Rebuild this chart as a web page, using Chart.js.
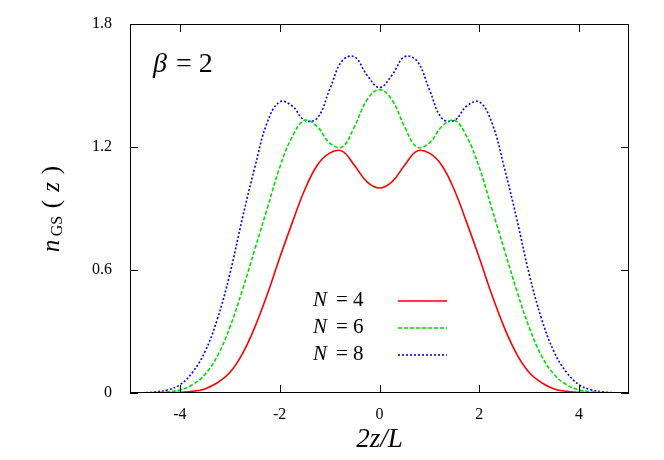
<!DOCTYPE html>
<html><head><meta charset="utf-8">
<script src="https://cdn.jsdelivr.net/npm/chart.js@4"></script>
<style>body{margin:0;background:#fff}#w{width:664px;height:460px}</style>
</head><body><div id="w"><canvas id="c"></canvas></div>
<script>
const xs=[-5,-4.75,-4.5,-4.25,-4,-3.75,-3.5,-3.25,-3,-2.75,-2.5,-2.25,-2,-1.75,-1.5,-1.25,-1,-0.75,-0.5,-0.25,0,0.25,0.5,0.75,1,1.25,1.5,1.75,2,2.25,2.5,2.75,3,3.25,3.5,3.75,4,4.25,4.5,4.75,5];
const n4=[0,0,0,0.001,0.003,0.008,0.02,0.05,0.1,0.19,0.32,0.48,0.66,0.83,0.99,1.11,1.17,1.18,1.11,1.03,1.0,1.03,1.11,1.18,1.17,1.11,0.99,0.83,0.66,0.48,0.32,0.19,0.1,0.05,0.02,0.008,0.003,0.001,0,0,0];
const n6=[0,0,0.002,0.006,0.015,0.04,0.09,0.18,0.32,0.5,0.7,0.9,1.1,1.25,1.33,1.3,1.22,1.2,1.3,1.43,1.48,1.43,1.3,1.2,1.22,1.3,1.33,1.25,1.1,0.9,0.7,0.5,0.32,0.18,0.09,0.04,0.015,0.006,0.002,0,0];
const n8=[0,0.001,0.005,0.015,0.04,0.1,0.2,0.36,0.58,0.85,1.1,1.32,1.42,1.4,1.33,1.34,1.48,1.62,1.64,1.55,1.49,1.55,1.64,1.62,1.48,1.34,1.33,1.4,1.42,1.32,1.1,0.85,0.58,0.36,0.2,0.1,0.04,0.015,0.005,0.001,0];
const xTicks=[-4,-2,0,2,4], yTicks=[0,0.6,1.2,1.8];
const labels=['4','6','8'];
const pts=a=>a.map((v,i)=>({x:xs[i],y:v}));
const serif='"Liberation Serif","DejaVu Serif",serif';
const deco={id:'deco',afterDraw(ch){
 const c=ch.ctx,a=ch.chartArea,xs_=ch.scales.x,ys=ch.scales.y;
 c.save();c.strokeStyle='#000';c.lineWidth=1;
 c.strokeRect(a.left+.5,a.top+.5,a.right-a.left-1,a.bottom-a.top-1);
 c.beginPath();
 xTicks.forEach(t=>{const p=Math.round(xs_.getPixelForValue(t))+.5;c.moveTo(p,a.bottom);c.lineTo(p,a.bottom-8);c.moveTo(p,a.top);c.lineTo(p,a.top+8);});
 yTicks.forEach(t=>{const p=Math.round(ys.getPixelForValue(t))+.5;c.moveTo(a.left,p);c.lineTo(a.left+8,p);c.moveTo(a.right,p);c.lineTo(a.right-8,p);});
 c.stroke();
 c.fillStyle='#000';c.textBaseline='middle';c.textAlign='left';
 c.font='italic 28px '+serif;c.fillText('β',153,65);
 c.font='28px '+serif;c.fillText('= 2',176,65);
 // y title
 c.save();c.translate(52,208);c.rotate(-Math.PI/2);c.textAlign='center';
 c.font='italic 25px '+serif;c.fillText('n',-38,0);
 c.font='16px '+serif;c.fillText('GS',-18,6);
 c.font='25px '+serif;c.fillText('(',4,0);c.fillText(')',38,0);
 c.font='italic 25px '+serif;c.fillText('z',21,0);
 c.restore();
 const ds=ch.data.datasets;
 ds.forEach((d,i)=>{const y=300+i*27;c.textAlign='left';c.fillStyle='#000';
  c.font='italic 21px '+serif;c.fillText('N',313,y);
  c.font='21px '+serif;c.fillText('= '+labels[i],336,y);
  c.strokeStyle=d.borderColor;c.lineWidth=1.6;c.setLineDash(d.borderDash||[]);c.beginPath();c.moveTo(398,y+1);c.lineTo(447,y+1);c.stroke();c.setLineDash([]);});
 c.restore();}};
new Chart(document.getElementById('c'),{type:'line',
 data:{datasets:[
  {data:pts(n4),borderColor:'#ff0000',borderWidth:1.6},
  {data:pts(n6),borderColor:'#00dd00',borderWidth:1.6,borderDash:[4,2]},
  {data:pts(n8),borderColor:'#0000ff',borderWidth:1.6,borderDash:[2,2]}]},
 options:{responsive:true,maintainAspectRatio:false,animation:false,
  elements:{point:{radius:0},line:{tension:0.4}},
  layout:{padding:{top:24,right:35,left:0,bottom:0}},
  plugins:{legend:{display:false},tooltip:{enabled:false}},
  scales:{
   x:{type:'linear',min:-5,max:5,afterBuildTicks:s=>{s.ticks=xTicks.map(v=>({value:v}))},
    afterFit:s=>{s.height=67},grid:{display:false},border:{display:false},
    ticks:{color:'#000',font:{family:serif,size:16},padding:4,maxRotation:0},
    title:{display:true,text:'2z/L',color:'#000',font:{family:serif,size:27,style:'italic'},padding:{top:0}}},
   y:{min:0,max:1.8,afterBuildTicks:s=>{s.ticks=yTicks.map(v=>({value:v}))},
    afterFit:s=>{s.width=130},grid:{display:false},border:{display:false},
    ticks:{color:'#000',font:{family:serif,size:16},padding:10,callback:v=>String(v)}}}},
 plugins:[deco]});
</script></body></html>
